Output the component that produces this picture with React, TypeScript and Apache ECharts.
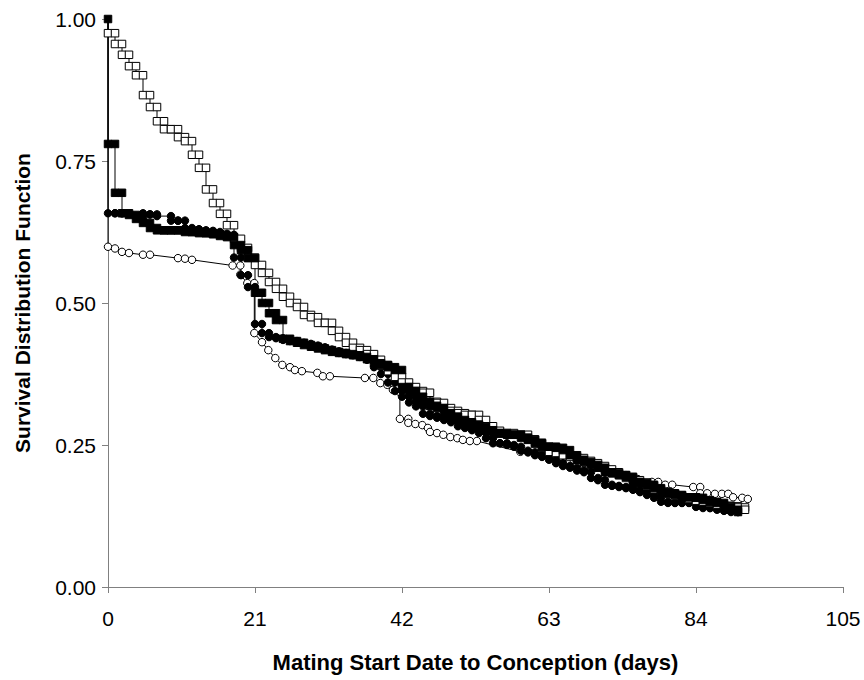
import React, { useEffect, useRef } from "react";
import * as echarts from "echarts";

// Tick labels
const xTicks = [0, 21, 42, 63, 84, 105];
const yTicks = [0, 0.25, 0.5, 0.75, 1.0];

// Open squares: day of drop and survival after that day (step curve)
const openSquareDays = [
  0, 1, 2, 3, 4, 5, 6, 7, 8, 9, 10, 11, 12, 13, 14, 15, 16, 17, 18, 19, 20, 21, 22, 23, 24, 25, 26, 27, 28, 29,
  30, 31, 32, 33, 34, 35, 36, 37, 38, 39, 40, 41, 42, 43, 44, 45, 46, 47, 48, 49, 50, 51, 52, 53, 54, 55, 56, 57,
  58, 59, 60, 61, 62, 63, 64, 65, 66, 67, 68, 69, 70, 71, 72, 73, 74, 75, 76, 77, 78, 79, 80, 81, 82, 83, 84, 85,
  86, 87, 88, 89, 90, 91,
];
const openSquareSurv = [
  0.975, 0.956, 0.937, 0.917, 0.901, 0.866, 0.845, 0.82, 0.806, 0.806, 0.792, 0.785, 0.761, 0.738, 0.7, 0.676,
  0.657, 0.637, 0.613, 0.597, 0.58, 0.567, 0.553, 0.537, 0.525, 0.511, 0.5, 0.493, 0.479, 0.475, 0.465, 0.465,
  0.451, 0.44, 0.43, 0.421, 0.417, 0.41, 0.4, 0.39, 0.38, 0.37, 0.36, 0.352, 0.345, 0.342, 0.326, 0.324, 0.315,
  0.31, 0.306, 0.303, 0.303, 0.294, 0.283, 0.275, 0.271, 0.271, 0.268, 0.268, 0.26, 0.252, 0.245, 0.238, 0.236,
  0.232, 0.229, 0.227, 0.222, 0.218, 0.213, 0.207, 0.202, 0.197, 0.192, 0.188, 0.184, 0.178, 0.172, 0.168, 0.164,
  0.161, 0.158, 0.155, 0.152, 0.15, 0.148, 0.145, 0.143, 0.142, 0.14, 0.136,
];

// Filled squares
const filledSquareDays = [
  0, 1, 2, 3, 4, 5, 6, 7, 8, 9, 10, 11, 12, 13, 14, 15, 16, 17, 18, 19, 20, 21, 22, 23, 24, 25, 26, 27, 28, 29,
  30, 31, 32, 33, 34, 35, 36, 37, 38, 39, 40, 41, 42, 43, 44, 45, 46, 47, 48, 49, 50, 51, 52, 53, 54, 55, 56, 57,
  58, 59, 60, 61, 62, 63, 64, 65, 66, 67, 68, 69, 70, 71, 72, 73, 74, 75, 76, 77, 78, 79, 80, 81, 82, 83, 84, 85,
  86, 87, 88, 89, 90,
];
const filledSquareSurv = [
  0.78, 0.694, 0.658, 0.655, 0.648, 0.641, 0.632, 0.628, 0.628, 0.628, 0.628, 0.625, 0.625, 0.623, 0.623, 0.621,
  0.618, 0.616, 0.602, 0.593, 0.579, 0.518, 0.5, 0.482, 0.47, 0.437, 0.433, 0.43, 0.426, 0.423, 0.42, 0.417,
  0.414, 0.412, 0.41, 0.408, 0.405, 0.401, 0.394, 0.391, 0.387, 0.382, 0.352, 0.345, 0.335, 0.326, 0.319, 0.315,
  0.306, 0.3, 0.294, 0.29, 0.286, 0.282, 0.276, 0.271, 0.27, 0.268, 0.268, 0.263, 0.259, 0.254, 0.247, 0.247,
  0.245, 0.241, 0.232, 0.224, 0.22, 0.215, 0.21, 0.202, 0.2, 0.197, 0.194, 0.185, 0.183, 0.18, 0.174, 0.167,
  0.165, 0.162, 0.158, 0.158, 0.157, 0.153, 0.15, 0.148, 0.141, 0.136, 0.132,
];

// Filled circles
const filledCircleDays = [
  0, 1, 2, 5, 6, 7, 9, 10, 11, 12, 13, 14, 15, 16, 17, 18, 19, 20, 21, 22, 23, 24, 25, 26, 27, 28, 29, 30, 31, 32,
  33, 34, 35, 36, 37, 38, 39, 40, 41, 42, 43, 44, 45, 46, 47, 48, 49, 50, 51, 52, 53, 54, 55, 56, 57, 58, 59, 60,
  61, 62, 63, 64, 65, 66, 67, 68, 69, 70, 71, 72, 73, 74, 75, 76, 77, 78, 79, 80, 81, 82, 83, 84, 85, 86, 87, 88,
  89, 90,
];
const filledCircleSurv = [
  0.658, 0.658, 0.658, 0.656, 0.656, 0.653, 0.645, 0.645, 0.632, 0.63, 0.628, 0.627, 0.625, 0.622, 0.62, 0.58,
  0.549, 0.528, 0.463, 0.447, 0.44, 0.438, 0.435, 0.433, 0.43, 0.428, 0.425, 0.422, 0.418, 0.415, 0.412, 0.41,
  0.408, 0.405, 0.4, 0.387, 0.375, 0.36, 0.345, 0.335, 0.325, 0.318, 0.305, 0.301, 0.298, 0.294, 0.29, 0.283,
  0.28, 0.276, 0.271, 0.262, 0.253, 0.253, 0.25, 0.247, 0.24, 0.237, 0.232, 0.229, 0.224, 0.218, 0.213, 0.21,
  0.205, 0.202, 0.192, 0.188, 0.18, 0.178, 0.176, 0.174, 0.171, 0.167, 0.162, 0.157, 0.15, 0.148, 0.148, 0.148,
  0.148, 0.141, 0.139, 0.139, 0.136, 0.134, 0.132, 0.132,
];

// Open circles: points in plotting order (day, survival)
const openCircleDays = [
  0, 0, 1, 2, 3, 5, 6, 10, 11, 12, 17.8, 18.9, 18.9, 19.9, 20.9, 20.9, 22, 22.9, 23.9, 24.9, 26, 26.7, 27.7, 29.9,
  30.7, 31.7, 36.7, 37.9, 38.9, 39.9, 40.7, 41.7, 41.7, 42.9, 42.9, 43.9, 44.9, 45.7, 46, 47, 47.9, 48.9, 49.9,
  50.7, 51.7, 52.7, 58.9, 60, 62, 63.5, 65, 66.5, 68, 69.5, 70.6, 72, 74, 75.7, 77.7, 78.6, 79.6, 80.6, 83.6, 84.6,
  84.6, 85.6, 86.7, 87.7, 88.6, 89.3, 90.6, 91.4,
];
const openCircleSurv = [
  1.0, 0.599, 0.596, 0.59, 0.588, 0.585, 0.585, 0.579, 0.578, 0.576, 0.566, 0.566, 0.55, 0.535, 0.535, 0.447,
  0.431, 0.417, 0.403, 0.391, 0.387, 0.382, 0.38, 0.377, 0.371, 0.371, 0.368, 0.368, 0.359, 0.356, 0.347, 0.343,
  0.296, 0.296, 0.289, 0.287, 0.285, 0.28, 0.273, 0.271, 0.268, 0.264, 0.262, 0.259, 0.257, 0.257, 0.238, 0.238,
  0.235, 0.232, 0.228, 0.224, 0.218, 0.213, 0.21, 0.205, 0.197, 0.19, 0.185, 0.185, 0.18, 0.18, 0.176, 0.176,
  0.165, 0.165, 0.164, 0.164, 0.164, 0.158, 0.157, 0.155,
];

function stepPoints(days: number[], surv: number[], showFirst: boolean) {
  const pts: any[] = [{ value: [days[0], 1.0], symbol: showFirst ? undefined : "none" }];
  for (let i = 0; i < days.length; i++) {
    if (i > 0) pts.push([days[i], surv[i - 1]]);
    pts.push([days[i], surv[i]]);
  }
  return pts;
}

function rawPoints(days: number[], surv: number[]) {
  return days.map((d, i) => (i === 0 ? { value: [d, surv[i]], symbol: "none" } : [d, surv[i]]));
}

const FONT = "Liberation Sans, Arial, sans-serif";

export default function App() {
  const ref = useRef<HTMLDivElement>(null);
  useEffect(() => {
    document.body.style.margin = "0";
    const chart = echarts.init(ref.current!, null, { renderer: "svg" });
    const lineSeries = (name: string, data: any[], symbol: string, fill: string) => ({
      name,
      type: "line",
      data,
      symbol,
      symbolSize: 7.5,
      showSymbol: true,
      showAllSymbol: true,
      lineStyle: { color: "#000", width: 1 },
      itemStyle: { color: fill, borderColor: "#000", borderWidth: 1 },
      emphasis: { disabled: true },
    });
    chart.setOption({
      animation: false,
      backgroundColor: "#fff",
      grid: { left: 108, right: 21, top: 19, bottom: 93 },
      xAxis: {
        type: "value",
        min: xTicks[0],
        max: xTicks[xTicks.length - 1],
        interval: 21,
        name: "Mating Start Date to Conception (days)",
        nameLocation: "middle",
        nameGap: 64,
        nameTextStyle: { fontFamily: FONT, fontSize: 22, fontWeight: "bold", color: "#000" },
        axisLine: { show: true, lineStyle: { color: "#808080", width: 1 } },
        axisTick: { show: true, length: 6, inside: false, lineStyle: { color: "#808080" } },
        axisLabel: { fontFamily: FONT, fontSize: 21, color: "#000", margin: 21 },
        splitLine: { show: false },
      },
      yAxis: {
        type: "value",
        min: yTicks[0],
        max: yTicks[yTicks.length - 1],
        interval: 0.25,
        name: "Survival Distribution Function",
        nameLocation: "middle",
        nameGap: 75,
        nameTextStyle: { fontFamily: FONT, fontSize: 21, fontWeight: "bold", color: "#000" },
        axisLine: { show: true, lineStyle: { color: "#808080", width: 1 } },
        axisTick: { show: true, length: 6, inside: false, lineStyle: { color: "#808080" } },
        axisLabel: {
          fontFamily: FONT,
          fontSize: 21,
          color: "#000",
          margin: 12,
          formatter: (v: number) => v.toFixed(2),
        },
        splitLine: { show: false },
      },
      series: [
        lineSeries("Open circles", rawPoints(openCircleDays, openCircleSurv), "circle", "#fff"),
        lineSeries("Filled circles", stepPoints(filledCircleDays, filledCircleSurv, false), "circle", "#000"),
        lineSeries("Open squares", stepPoints(openSquareDays, openSquareSurv, false), "rect", "#fff"),
        lineSeries("Filled squares", stepPoints(filledSquareDays, filledSquareSurv, true), "rect", "#000"),
      ],
    });
    return () => chart.dispose();
  }, []);
  return <div ref={ref} style={{ width: 864, height: 680 }} />;
}
